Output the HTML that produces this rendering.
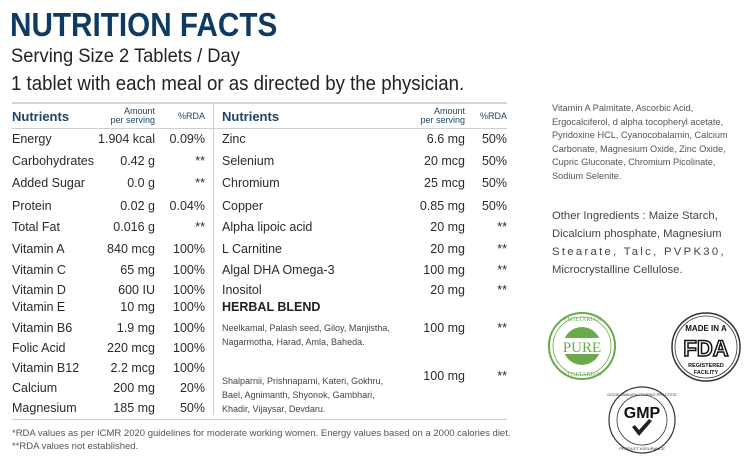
<!DOCTYPE html>
<html><head><meta charset="utf-8"><style>
body{margin:0;width:750px;height:466px;background:#fff;position:relative;overflow:hidden;font-family:"Liberation Sans",sans-serif;color:#2a2a2a}
.a{position:absolute;white-space:nowrap}
.r{text-align:right}
.h{color:#1e4664;font-weight:bold}
.t{font-size:12.5px}
.s{font-size:9.5px;color:#444}
.sx{transform-origin:0 0}
</style></head><body>
<div class="a sx" style="left:10px;top:6px;font-size:33px;font-weight:bold;color:#0f3b62;transform:scaleX(0.9)">NUTRITION FACTS</div>
<div class="a sx" style="left:11px;top:45px;font-size:19.5px;color:#222;transform:scaleX(0.94)">Serving Size 2 Tablets / Day</div>
<div class="a sx" style="left:11px;top:72px;font-size:20.5px;color:#222;transform:scaleX(0.91)">1 tablet with each meal or as directed by the physician.</div>
<div class="a" style="left:12px;top:102px;width:495px;height:2px;background:#d4d4d4"></div>
<div class="a" style="left:12px;top:128px;width:495px;height:1px;background:#cfcfcf"></div>
<div class="a" style="left:12px;top:419px;width:495px;height:1px;background:#cfcfcf"></div>
<div class="a" style="left:213px;top:104px;width:1px;height:311px;background:#cfcfcf"></div>
<div class="a h" style="left:12px;top:109px;font-size:13px">Nutrients</div>
<div class="a h r" style="left:95px;top:107px;width:60px;font-size:9px;line-height:9px;font-weight:normal">Amount<br>per serving</div>
<div class="a h r" style="left:165px;top:111px;width:40px;font-size:9px;font-weight:normal">%RDA</div>
<div class="a h" style="left:222px;top:109px;font-size:13px">Nutrients</div>
<div class="a h r" style="left:405px;top:107px;width:60px;font-size:9px;line-height:9px;font-weight:normal">Amount<br>per serving</div>
<div class="a h r" style="left:467px;top:111px;width:40px;font-size:9px;font-weight:normal">%RDA</div>
<div id="L"></div>
<script>
var L=[["Energy","1.904 kcal","0.09%",132],["Carbohydrates","0.42 g","**",154],["Added Sugar","0.0 g","**",176],["Protein","0.02 g","0.04%",199],["Total Fat","0.016 g","**",220],["Vitamin A","840 mcg","100%",242],["Vitamin C","65 mg","100%",263],["Vitamin D","600 IU","100%",283],["Vitamin E","10 mg","100%",300],["Vitamin B6","1.9 mg","100%",321],["Folic Acid","220 mcg","100%",341],["Vitamin B12","2.2 mcg","100%",361],["Calcium","200 mg","20%",381],["Magnesium","185 mg","50%",401]];
var R=[["Zinc","6.6 mg","50%",132],["Selenium","20 mcg","50%",154],["Chromium","25 mcg","50%",176],["Copper","0.85 mg","50%",199],["Alpha lipoic acid","20 mg","**",220],["L Carnitine","20 mg","**",242],["Algal DHA Omega-3","100 mg","**",263],["Inositol","20 mg","**",283],["","100 mg","**",321],["","100 mg","**",369]];
var h="";
L.forEach(function(r){h+='<div class="a t" style="left:12px;top:'+r[3]+'px">'+r[0]+'</div><div class="a t r" style="left:75px;width:80px;top:'+r[3]+'px">'+r[1]+'</div><div class="a t r" style="left:155px;width:50px;top:'+r[3]+'px">'+r[2]+'</div>';});
R.forEach(function(r){h+='<div class="a t" style="left:222px;top:'+r[3]+'px">'+r[0]+'</div><div class="a t r" style="left:385px;width:80px;top:'+r[3]+'px">'+r[1]+'</div><div class="a t r" style="left:457px;width:50px;top:'+r[3]+'px">'+r[2]+'</div>';});
document.getElementById("L").outerHTML=h;
</script>
<div class="a" style="left:222px;top:300px;font-size:12.5px;font-weight:bold;color:#222">HERBAL BLEND</div>
<div class="a s" style="left:222px;top:321px;line-height:14px;font-size:9px">Neelkamal, Palash seed, Giloy, Manjistha,<br>Nagarmotha, Harad, Amla, Baheda.</div>
<div class="a s" style="left:222px;top:374px;line-height:14px;font-size:9px">Shalparnii, Prishnaparni, Kateri, Gokhru,<br>Bael, Agnimanth, Shyonok, Gambhari,<br>Khadir, Vijaysar, Devdaru.</div>
<div class="a" style="left:12px;top:427px;font-size:9.5px;color:#555;line-height:13px">*RDA values as per ICMR 2020 guidelines for moderate working women. Energy values based on a 2000 calories diet.<br>**RDA values not established.</div>
<div class="a s" style="left:552px;top:102px;line-height:13.5px;font-size:9.2px;color:#555">Vitamin A Palmitate, Ascorbic Acid,<br>Ergocalciferol, d alpha tocopheryl acetate,<br>Pyridoxine HCL, Cyanocobalamin, Calcium<br>Carbonate, Magnesium Oxide, Zinc Oxide,<br>Cupric Gluconate, Chromium Picolinate,<br>Sodium Selenite.</div>
<div class="a" style="left:552px;top:207px;line-height:18px;font-size:11.3px;color:#444">Other Ingredients : Maize Starch,<br>Dicalcium phosphate, Magnesium<br><span style="letter-spacing:2.3px">Stearate, Talc, PVPK30,</span><br>Microcrystalline Cellulose.</div>
<svg class="a" style="left:540px;top:290px" width="210" height="176" viewBox="0 0 210 176">
<circle cx="42" cy="56" r="33" fill="#fff" stroke="#6aaa4a" stroke-width="2"/>
<circle cx="42" cy="56" r="29" fill="none" stroke="#6aaa4a" stroke-width="0.8"/>
<circle cx="42" cy="56" r="19" fill="#6aaa4a"/>
<rect x="20" y="48" width="44" height="16" fill="#fff"/>
<text x="42" y="62" font-family="Liberation Serif" font-size="15" fill="#6aaa4a" text-anchor="middle">PURE</text>
<text x="42" y="31" font-family="Liberation Serif" font-size="6" fill="#6aaa4a" text-anchor="middle">VEGETARIAN</text>
<text x="42" y="86" font-family="Liberation Serif" font-size="6" fill="#6aaa4a" text-anchor="middle">VEGETARIAN</text>
<circle cx="166" cy="57" r="34" fill="#fff" stroke="#333" stroke-width="1.5"/>
<circle cx="166" cy="57" r="31" fill="none" stroke="#333" stroke-width="0.8"/>
<text x="166" y="41" font-size="8" font-weight="bold" text-anchor="middle" fill="#111">MADE IN A</text>
<text x="166" y="66" font-size="22" font-weight="bold" text-anchor="middle" fill="#fff" stroke="#111" stroke-width="1.5">FDA</text>
<text x="166" y="77" font-size="5.5" font-weight="bold" text-anchor="middle" fill="#111">REGISTERED</text>
<text x="166" y="84" font-size="5.5" font-weight="bold" text-anchor="middle" fill="#111">FACILITY</text>
<circle cx="102" cy="130" r="33" fill="#fff" stroke="#333" stroke-width="1.2"/>
<circle cx="102" cy="130" r="25" fill="none" stroke="#333" stroke-width="0.8"/>
<text x="102" y="128" font-size="16" font-weight="bold" text-anchor="middle" fill="#111">GMP</text>
<path d="M92 137 L99 146 L112 131 L109 129 L99 140 L95 135Z" fill="#222"/>
<text x="102" y="106" font-size="4" text-anchor="middle" fill="#333">GOOD MANUFACTURING PRACTICE</text>
<text x="102" y="160" font-size="4" text-anchor="middle" fill="#333">PRODUCT ASSURANCE</text>
</svg>
</body></html>
